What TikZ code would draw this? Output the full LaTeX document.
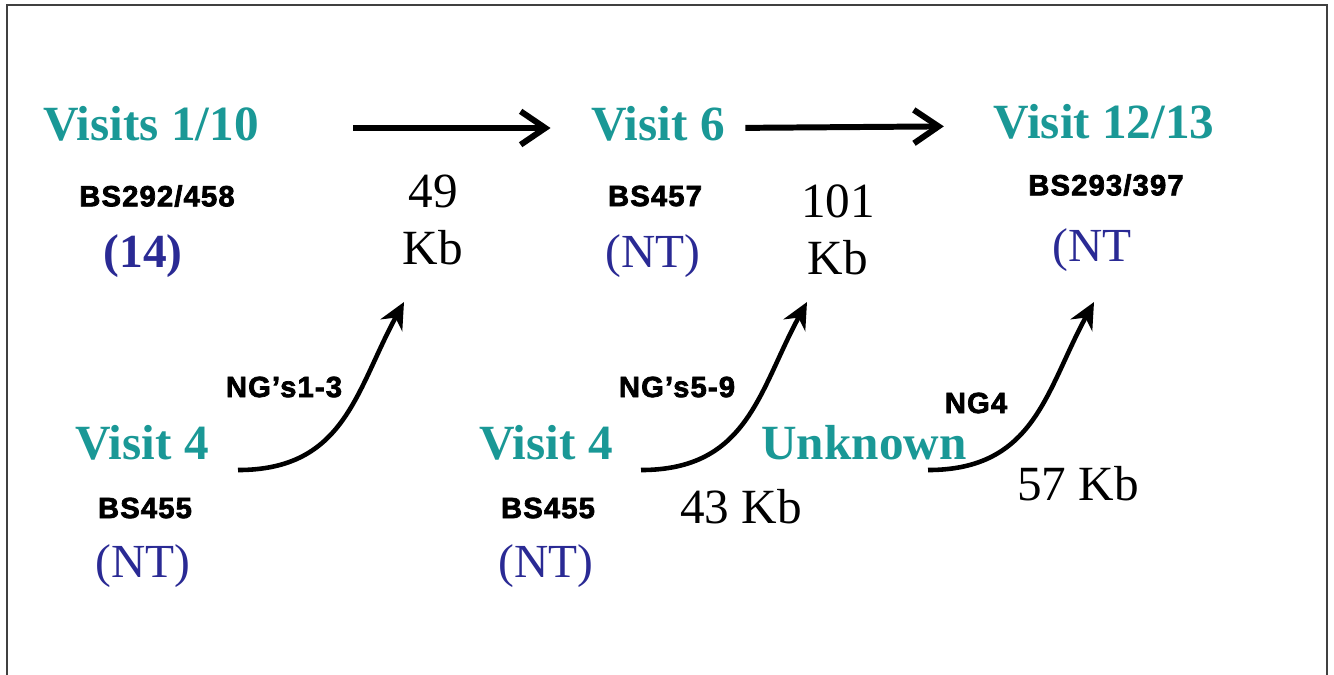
\documentclass[tikz,border=0pt]{standalone}
\usepackage{fontspec}
\setmainfont{Liberation Serif}
\newfontfamily\bsfont[LetterSpace=4,FakeBold=2.5]{Liberation Sans Bold}
\usepackage{xcolor}
\usetikzlibrary{arrows.meta, positioning, calc}
\definecolor{visitteal}{RGB}{26,152,150}
\definecolor{ntblue}{RGB}{42,42,148}

\begin{document}
\begin{tikzpicture}[
    visit/.style={inner sep=0pt, text=visitteal, font=\fontsize{14}{16}\selectfont\bfseries},
    strain/.style={inner sep=0pt, font=\bsfont\fontsize{8.3}{9}\selectfont},
    typing/.style={inner sep=0pt, text=ntblue, font=\fontsize{13.5}{15}\selectfont},
    size/.style={inner sep=0pt, align=center, font=\fontsize{14}{16.2}\selectfont},
    ng/.style={inner sep=0pt, font=\bsfont\fontsize{8.3}{9}\selectfont},
    flow/.style={line width=1.7pt, -{Straight Barb[length=7pt, width=9.5pt, line width=1.7pt]}},
    gain/.style={line width=1.3pt, -{Stealth[length=7.5pt, width=7pt]}}
]
\useasboundingbox (0,0) rectangle (13.34,-6.74);
% Frame
\draw[line width=0.6pt, black!75] (0.07,-6.80) -- (0.07,-0.05) -- (13.27,-0.05) -- (13.27,-6.80);

% Top row
\node[visit] (v1) at (1.51,-1.24) {Visits 1/10};
\node[strain] (bs1) at (1.57,-1.96) {BS292/458};
\node[typing, font=\fontsize{13.5}{15}\selectfont\bfseries] (t1) at (1.43,-2.56) {(14)};

\node[visit] (v6) at (6.58,-1.24) {Visit 6};
\node[strain] (bs6) at (6.55,-1.96) {BS457};
\node[typing] (t6) at (6.53,-2.56) {(NT)};

\node[visit] (v12) at (11.04,-1.22) {Visit 12/13};
\node[strain] (bs12) at (11.06,-1.85) {BS293/397};
\node[typing] (t12) at (10.92,-2.50) {(NT};

% Sizes
\node[size] (kb1) at (4.33,-2.20) {49\\Kb};
\node[size] (kb2) at (8.38,-2.30) {101\\Kb};
\node[size] (kb3) at (7.41,-5.07) {43 Kb};
\node[size] (kb4) at (10.78,-4.84) {57 Kb};

% Bottom row
\node[visit] (v4a) at (1.42,-4.43) {Visit 4};
\node[strain] (bs4a) at (1.45,-5.08) {BS455};
\node[typing] (t4a) at (1.43,-5.66) {(NT)};

\node[visit] (v4b) at (5.46,-4.43) {Visit 4};
\node[strain] (bs4b) at (5.48,-5.08) {BS455};
\node[typing] (t4b) at (5.46,-5.66) {(NT)};

\node[visit] (unk) at (8.64,-4.43) {Unknown};

% Gene labels
\node[ng] (ng1) at (2.84,-3.87) {NG’s1-3};
\node[ng] (ng2) at (6.77,-3.87) {NG’s5-9};
\node[ng] (ng3) at (9.76,-4.03) {NG4};

% Arrow ends
\coordinate (s1) at (2.38,-4.70);
\coordinate (e1) at (4.04,-3.02);
\coordinate (s2) at (6.41,-4.70);
\coordinate (e2) at (8.07,-3.02);
\coordinate (s3) at (9.28,-4.70);
\coordinate (e3) at (10.94,-3.02);

% Visit sequence
\draw[flow, shorten <=0.94cm, shorten >=0.40cm] ([yshift=-0.4mm]v1.east) -- ([yshift=-0.4mm]v6.west);
\draw[flow, shorten <=0.20cm, shorten >=0.49cm] ([yshift=-0.4mm]v6.east) -- ([yshift=-0.4mm]v12.west);

% Gene gains
\draw[gain] (s1) .. controls +(1.07,0) and +(-0.48,-0.88) .. (e1);
\draw[gain] (s2) .. controls +(1.07,0) and +(-0.48,-0.88) .. (e2);
\draw[gain] (s3) .. controls +(1.07,0) and +(-0.48,-0.88) .. (e3);
\end{tikzpicture}
\end{document}
